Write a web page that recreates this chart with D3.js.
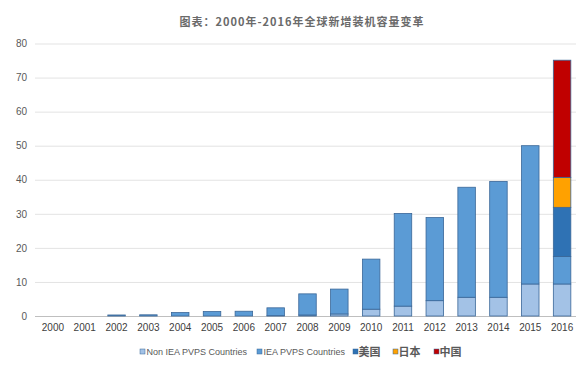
<!DOCTYPE html>
<html><head><meta charset="utf-8">
<script src="https://cdn.jsdelivr.net/npm/d3@7"></script>
<style>
html,body{margin:0;padding:0;background:#fff;}
svg{display:block;}
</style></head>
<body>
<svg id="c" width="576" height="369"></svg>
<script>
const title = "图表：2000年-2016年全球新增装机容量变革";
const years = ["2000","2001","2002","2003","2004","2005","2006","2007","2008","2009","2010","2011","2012","2013","2014","2015","2016"];
const nonIEA = [0,0,0,0,0,0,0,0.1,0.3,0.6,2.0,2.9,4.5,5.5,5.5,9.4,9.4];
const iea    = [0,0,0.3,0.35,1.0,1.3,1.4,2.3,6.2,7.3,14.7,27.2,24.4,32.3,34.0,40.6,8.1];
const usa    = [0,0,0,0,0,0,0,0,0,0,0,0,0,0,0,0,14.4];
const japan  = [0,0,0,0,0,0,0,0,0,0,0,0,0,0,0,0,8.8];
const china  = [0,0,0,0,0,0,0,0,0,0,0,0,0,0,0,0,34.4];
const yTicks = [0,10,20,30,40,50,60,70,80];
const seriesNames = ["Non IEA PVPS Countries","IEA PVPS Countries","美国","日本","中国"];
const seriesKeys = ["nonIEA","iea","usa","japan","china"];
const colors = ["#a3c2e6","#5b9bd5","#2f72b4","#ffa100","#c00000"];

const rows = years.map((yr,i)=>({year:yr,nonIEA:nonIEA[i],iea:iea[i],usa:usa[i],japan:japan[i],china:china[i]}));
const stacked = d3.stack().keys(seriesKeys)(rows);

const svg = d3.select("#c");
const mLeft = 37, mRight = 578, mTop = 43.5, mBottom = 316;
const x = d3.scaleBand().domain(years).range([mLeft,mRight]).padding(0);
const y = d3.scaleLinear().domain([0,80]).range([mBottom,mTop]);
const bw = x.bandwidth()*0.55;

// title
svg.append("text").attr("x",302).attr("y",26).attr("text-anchor","middle")
  .attr("font-family","'Noto Sans CJK SC', sans-serif").attr("font-size",11).attr("font-weight","bold")
  .attr("letter-spacing",1).attr("fill","#6a6a6a").text(title);

// y axis with grid
const yAxis = svg.append("g").attr("transform",`translate(${mLeft},0)`)
  .call(d3.axisLeft(y).tickValues(yTicks).tickSize(-(mRight-mLeft)).tickPadding(10));
yAxis.select(".domain").remove();
yAxis.selectAll(".tick line").attr("stroke",d=>d===0?"#bfbfbf":"#e3e3e3").attr("stroke-width",1)
  .attr("x1",-2);
yAxis.selectAll(".tick text").attr("font-family","'Liberation Sans', Arial, sans-serif")
  .attr("font-size",10).attr("fill","#595959");

// bars
const g = svg.append("g");
stacked.forEach((s,si)=>{
  g.selectAll(null).data(s.filter(d=>d[1]-d[0]>0)).enter().append("rect")
    .attr("x",d=>x(d.data.year)+(x.bandwidth()-bw)/2)
    .attr("y",d=>y(d[1]))
    .attr("width",bw)
    .attr("height",d=>y(d[0])-y(d[1]))
    .attr("fill",colors[si])
    .attr("stroke","#3a6798").attr("stroke-width",0.8);
});

// x axis
const xAxis = svg.append("g").attr("transform",`translate(0,${mBottom})`)
  .call(d3.axisBottom(x).tickSize(0).tickPadding(8));
xAxis.select(".domain").remove();
xAxis.selectAll(".tick text").attr("font-family","'Liberation Sans', Arial, sans-serif")
  .attr("font-size",10).attr("fill","#404040");

// legend
const legX = [140,257,353,393,434];
const lg = svg.append("g");
seriesNames.forEach((n,i)=>{
  lg.append("rect").attr("x",legX[i]).attr("y",349).attr("width",5).attr("height",5)
    .attr("fill",colors[i]).attr("stroke","#3a6798").attr("stroke-width",0.5);
  lg.append("text").attr("x",legX[i]+(i<2?6.5:5.5)).attr("y",i<2?355:356)
    .attr("font-family", i<2 ? "'Liberation Sans', Arial, sans-serif" : "'Noto Sans CJK SC', sans-serif")
    .attr("font-size",i<2?9:11).attr("font-weight", i<2 ? "normal" : "bold").attr("fill","#595959").text(n);
});
</script>
</body></html>
